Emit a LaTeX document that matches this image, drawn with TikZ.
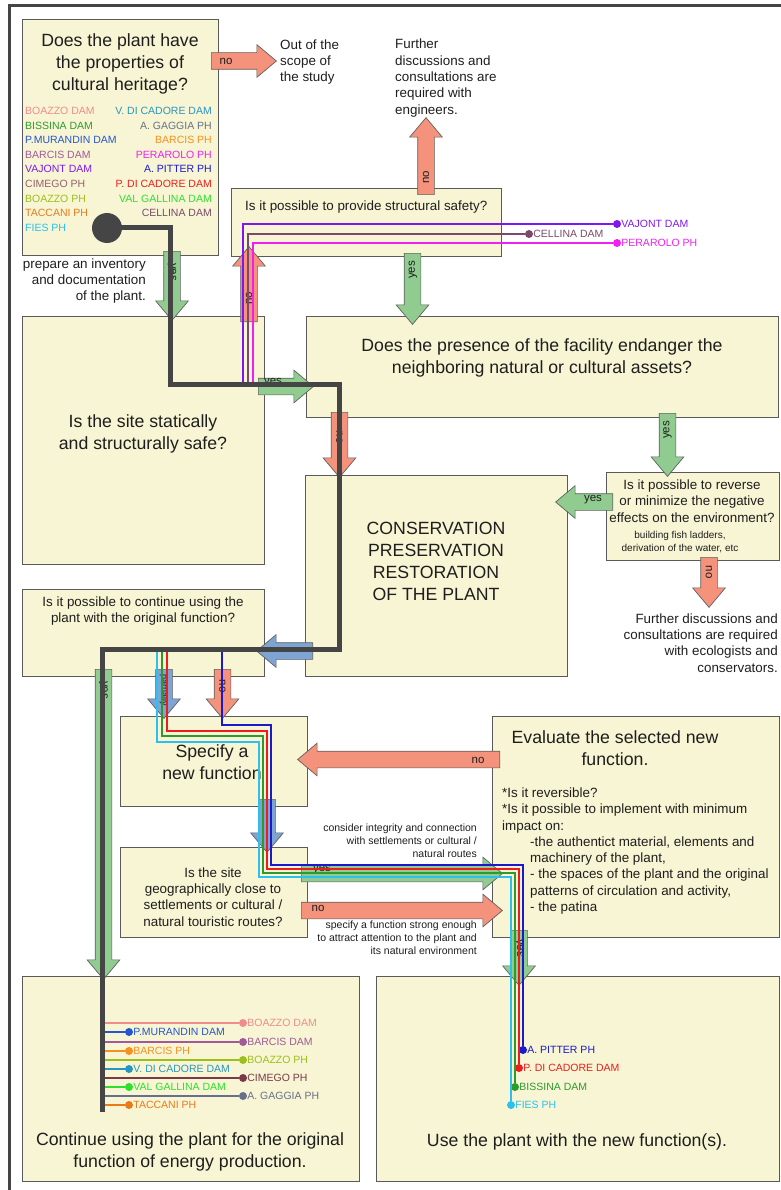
\documentclass[tikz,border=0pt]{standalone}
\usepackage{fontspec}
\setmainfont{Liberation Sans}
\usetikzlibrary{shapes.arrows}
\definecolor{boxfill}{HTML}{F7F5D3}
\definecolor{boxline}{HTML}{5A5A5A}
\definecolor{arrline}{HTML}{606060}
\definecolor{rd}{HTML}{F4927C}
\definecolor{gr}{HTML}{90CC90}
\definecolor{bl}{HTML}{7EA4D4}
\definecolor{trunkc}{HTML}{454545}
\definecolor{ink}{HTML}{1E1E1E}
\definecolor{boazzodam}{HTML}{F08C8C}
\definecolor{bissina}{HTML}{2E9A2E}
\definecolor{murandin}{HTML}{2456D0}
\definecolor{barcisdam}{HTML}{A05A9A}
\definecolor{vajont}{HTML}{7F18F0}
\definecolor{cimego}{HTML}{7A3A48}
\definecolor{boazzoph}{HTML}{9CBF1E}
\definecolor{taccani}{HTML}{E87A1A}
\definecolor{fies}{HTML}{2CC0F0}
\definecolor{vdicadore}{HTML}{2A95C0}
\definecolor{gaggia}{HTML}{66708A}
\definecolor{barcisph}{HTML}{F7901E}
\definecolor{perarolo}{HTML}{F020F0}
\definecolor{pitter}{HTML}{1A1ACC}
\definecolor{pdicadore}{HTML}{EE1C1C}
\definecolor{valgallina}{HTML}{2EE02E}
\definecolor{cellina}{HTML}{7A4A6A}
\tikzset{dot/.style={circle, fill=#1, minimum size=8pt, label distance=1.5pt},
  wire/.style={draw=#1, line width=2.5pt}}
\begin{document}
\begin{tikzpicture}[x=1pt, y=-1pt]
\tikzstyle{every node}=[inner sep=0pt, text=ink];
\tikzstyle{box}=[rectangle, draw=boxline, fill=boxfill, line width=0.8pt];
\tikzstyle{big}=[font=\fontsize{17.7}{22}\selectfont, align=center];
\tikzstyle{mid}=[font=\fontsize{13.4}{16.3}\selectfont, align=center];
\tikzstyle{small}=[font=\fontsize{10.5}{13}\selectfont];
\tikzstyle{lbl}=[font=\fontsize{11.5}{12}\selectfont];
\tikzstyle{blk}=[single arrow, draw=arrline, line width=0.7pt, inner xsep=0pt, inner ysep=8pt, single arrow head extend=8pt, single arrow tip angle=80, minimum width=0pt, anchor=tail];
\tikzstyle{trunk}=[draw=trunkc, line width=5pt];
\useasboundingbox (0,0) rectangle (780,1190);
\draw[draw=trunkc, line width=3pt] (9,1200) -- (9,6) -- (790,6);
% boxes
\node[box, minimum width=196pt, minimum height=236pt] (b0) at (120,137) {};
\node[box, minimum width=270pt, minimum height=68pt] (b1) at (366,222) {};
\node[box, minimum width=242pt, minimum height=248pt] (b2) at (143,440) {};
\node[box, minimum width=472pt, minimum height=101pt] (b3) at (542,366.5) {};
\node[box, minimum width=262pt, minimum height=201pt] (b4) at (436,575.5) {};
\node[box, minimum width=173pt, minimum height=88pt] (b5) at (692.5,516) {};
\node[box, minimum width=242pt, minimum height=87pt] (b6) at (143,632.5) {};
\node[box, minimum width=187pt, minimum height=90pt] (b7) at (213.5,761) {};
\node[box, minimum width=187pt, minimum height=90pt] (b8) at (213.5,892) {};
\node[box, minimum width=287pt, minimum height=221pt] (b9) at (635.5,826.5) {};
\node[box, minimum width=337pt, minimum height=205pt] (b10) at (190.5,1078.5) {};
\node[box, minimum width=403pt, minimum height=205pt] (b11) at (577.5,1078.5) {};
% texts
\node[big] (t0) at (120,64) {Does the plant have\\the properties of\\cultural heritage?};
\node[mid, align=right, anchor=east] (t1) at (146,281) {prepare an inventory\\and documentation\\of the plant.};
\node[mid, align=left, anchor=west] (t2) at (280,62) {Out of the\\scope of\\the study};
\node[mid, align=left, anchor=west] (t3) at (395,78) {Further\\discussions and\\consultations are\\required with\\engineers.};
\node[mid, anchor=west] (t4) at (245,207) {Is it possible to provide structural safety?};
\node[big] (t5) at (143,434) {Is the site statically\\and structurally safe?};
\node[big] (t6) at (542,358) {Does the presence of the facility endanger the\\neighboring natural or cultural assets?};
\node[big] (t7) at (436,561) {CONSERVATION\\PRESERVATION\\RESTORATION\\OF THE PLANT};
\node[mid] (t8) at (692,501) {Is it possible to reverse\\or minimize the negative\\effects on the environment?};
\node[font=\fontsize{10}{13}\selectfont, align=center] (t9) at (680,542.5) {building fish ladders,\\derivation of the water, etc};
\node[mid, align=right, anchor=east] (t10) at (778,643) {Further discussions and\\consultations are required\\with ecologists and\\conservators.};
\node[mid] (t11) at (143,611) {Is it possible to continue using the\\plant with the original function?};
\node[big] (t12) at (212,762.5) {Specify a\\new function};
\node[mid] (t13) at (213,897) {Is the site\\geographically close to\\settlements or cultural /\\natural touristic routes?};
\node[big] (t14) at (615,748) {Evaluate the selected new\\function.};
\node[mid, align=left, anchor=west] (t15) at (502,851) {*Is it reversible?\\*Is it possible to implement with minimum\\impact on:\\\hspace*{28pt}-the authentict material, elements and\\\hspace*{28pt}machinery of the plant,\\\hspace*{28pt}- the spaces of the plant and the original\\\hspace*{28pt}patterns of circulation and activity,\\\hspace*{28pt}- the patina};
\node[small, align=right, anchor=east] (t16) at (477,841) {consider integrity and connection\\with settlements or cultural /\\natural routes};
\node[small, align=right, anchor=east] (t17) at (477,937.5) {specify a function strong enough\\to attract attention to the plant and\\its natural environment};
\node[big] (t18) at (190,1152) {Continue using the plant for the original\\function of energy production.};
\node[big] (t19) at (577,1142) {Use the plant with the new function(s).};
% plant list
\node[small, anchor=west, text=boazzodam] (l0) at (25,111) {BOAZZO DAM};
\node[small, anchor=west, text=bissina] (l1) at (25,126) {BISSINA DAM};
\node[small, anchor=west, text=murandin] (l2) at (25,140) {P.MURANDIN DAM};
\node[small, anchor=west, text=barcisdam] (l3) at (25,155) {BARCIS DAM};
\node[small, anchor=west, text=vajont] (l4) at (25,169) {VAJONT DAM};
\node[small, anchor=west, text=cimego!80!white] (l5) at (25,184) {CIMEGO PH};
\node[small, anchor=west, text=boazzoph] (l6) at (25,199) {BOAZZO PH};
\node[small, anchor=west, text=taccani] (l7) at (25,213) {TACCANI PH};
\node[small, anchor=west, text=fies] (l8) at (25,228) {FIES PH};
\node[small, anchor=east, text=vdicadore] (l9) at (212,111) {V. DI CADORE DAM};
\node[small, anchor=east, text=gaggia] (l10) at (212,126) {A. GAGGIA PH};
\node[small, anchor=east, text=barcisph] (l11) at (212,140) {BARCIS PH};
\node[small, anchor=east, text=perarolo] (l12) at (212,155) {PERAROLO PH};
\node[small, anchor=east, text=pitter] (l13) at (212,169) {A. PITTER PH};
\node[small, anchor=east, text=pdicadore] (l14) at (212,184) {P. DI CADORE DAM};
\node[small, anchor=east, text=valgallina] (l15) at (212,199) {VAL GALLINA DAM};
\node[small, anchor=east, text=cellina] (l16) at (212,213) {CELLINA DAM};
% block arrows
\node[blk, fill=rd, minimum height=65pt] (a0) at (211,61) {};
\node[blk, fill=rd, minimum height=77pt, rotate=90] (a1) at (426,195) {};
\node[blk, fill=gr, minimum height=69pt, rotate=-90] (a2) at (172,251) {};
\node[blk, fill=rd, minimum height=75pt, rotate=90] (a3) at (249,322) {};
\node[blk, fill=gr, minimum height=55pt] (a4) at (258,386.5) {};
\node[blk, fill=rd, minimum height=65pt, rotate=-90] (a5) at (339.5,412) {};
\node[blk, fill=gr, minimum height=71pt, rotate=-90] (a6) at (412.5,253) {};
\node[blk, fill=gr, minimum height=63pt, rotate=-90] (a7) at (667.5,413) {};
\node[blk, fill=gr, minimum height=57pt, rotate=180] (a8) at (613,502) {};
\node[blk, fill=rd, minimum height=50pt, rotate=-90] (a9) at (709,557) {};
\node[blk, fill=bl, minimum height=56pt, rotate=180] (a10) at (313,651) {};
\node[blk, fill=gr, minimum height=310pt, rotate=-90] (a11) at (103.5,669) {};
\node[blk, fill=bl, minimum height=49pt, rotate=-90] (a12) at (164,669) {};
\node[blk, fill=rd, minimum height=49pt, rotate=-90] (a13) at (222.5,669) {};
\node[blk, fill=rd, minimum height=202pt, rotate=180] (a14) at (500,759.5) {};
\node[blk, fill=bl, minimum height=53pt, rotate=-90] (a15) at (267,799) {};
\node[blk, fill=gr, minimum height=201pt] (a16) at (301,873.5) {};
\node[blk, fill=rd, minimum height=201pt] (a17) at (301,910.5) {};
\node[blk, fill=gr, minimum height=55pt, rotate=-90] (a18) at (519,930) {};
\node[lbl] (n0) at (226,61) {no};
\node[lbl, rotate=90] (n1) at (426,177) {no};
\node[lbl, rotate=-90] (n2) at (172,272) {yes};
\node[lbl, rotate=90] (n3) at (249,298) {no};
\node[lbl] (n4) at (273,383) {yes};
\node[lbl, rotate=-90] (n5) at (339.5,437) {no};
\node[lbl, rotate=90] (n6) at (413,270) {yes};
\node[lbl, rotate=90] (n7) at (667.5,430) {yes};
\node[lbl] (n8) at (593,500) {yes};
\node[lbl, rotate=-90] (n9) at (709,572) {no};
\node[lbl, rotate=-90] (n11) at (103.5,690) {yes};
\node[lbl, rotate=-90, font=\fontsize{9}{10}\selectfont] (n12) at (164,690) {partially};
\node[lbl, rotate=-90] (n13) at (222.5,686) {no};
\node[lbl] (n14) at (478,760) {no};
\node[lbl] (n16) at (322,870) {yes};
\node[lbl] (n17) at (318,908) {no};
\node[lbl, rotate=-90] (n18) at (519,948) {yes};
% plant lines
\node[dot=vajont, label={[small, text=vajont]right:VAJONT DAM}] (d1) at (617,224) {};
\node[dot=cellina, label={[small, text=cellina]right:CELLINA DAM}] (d2) at (529,234) {};
\node[dot=perarolo, label={[small, text=perarolo]right:PERAROLO PH}] (d3) at (617,243) {};
\draw[wire=vajont] (d1) -- (243,224) -- (243,384);
\draw[wire=cellina] (d2) -- (248,234) -- (248,384);
\draw[wire=perarolo] (d3) -- (253,243) -- (253,384);
\node[dot=pitter, label={[small, text=pitter]right:A. PITTER PH}] (d4) at (523,1050) {};
\node[dot=pdicadore, label={[small, text=pdicadore]right:P. DI CADORE DAM}] (d5) at (519,1068) {};
\node[dot=bissina, label={[small, text=bissina]right:BISSINA DAM}] (d6) at (515,1087) {};
\node[dot=fies, label={[small, text=fies]right:FIES PH}] (d7) at (511,1105) {};
\draw[wire=pitter] (222,649) -- (222,725) -- (271,725) -- (271,865) -- (523,865) -- (d4);
\draw[wire=pdicadore] (167,649) -- (167,731) -- (267,731) -- (267,869) -- (519,869) -- (d5);
\draw[wire=bissina] (162,649) -- (162,736) -- (263,736) -- (263,873) -- (515,873) -- (d6);
\draw[wire=fies] (157,649) -- (157,742) -- (259,742) -- (259,877) -- (511,877) -- (d7);
\coordinate (e0) at (102,1112);
\node[dot=boazzodam, label={[small, text=boazzodam]right:BOAZZO DAM}] (d8) at (243,1023) {};
\node[dot=murandin, label={[small, text=murandin]right:P.MURANDIN DAM}] (d9) at (129,1032) {};
\node[dot=barcisdam, label={[small, text=barcisdam]right:BARCIS DAM}] (d10) at (243,1042) {};
\node[dot=barcisph, label={[small, text=barcisph]right:BARCIS PH}] (d11) at (129,1051) {};
\node[dot=boazzoph, label={[small, text=boazzoph]right:BOAZZO PH}] (d12) at (243,1060) {};
\node[dot=vdicadore, label={[small, text=vdicadore]right:V. DI CADORE DAM}] (d13) at (129,1069) {};
\node[dot=cimego, label={[small, text=cimego]right:CIMEGO PH}] (d14) at (243,1078) {};
\node[dot=valgallina, label={[small, text=valgallina]right:VAL GALLINA DAM}] (d15) at (129,1087) {};
\node[dot=gaggia, label={[small, text=gaggia]right:A. GAGGIA PH}] (d16) at (243,1096) {};
\node[dot=taccani, label={[small, text=taccani]right:TACCANI PH}] (d17) at (129,1105) {};
\draw[wire=boazzodam] (d8 -| e0) -- (d8);
\draw[wire=murandin] (d9 -| e0) -- (d9);
\draw[wire=barcisdam] (d10 -| e0) -- (d10);
\draw[wire=barcisph] (d11 -| e0) -- (d11);
\draw[wire=boazzoph] (d12 -| e0) -- (d12);
\draw[wire=vdicadore] (d13 -| e0) -- (d13);
\draw[wire=cimego] (d14 -| e0) -- (d14);
\draw[wire=valgallina] (d15 -| e0) -- (d15);
\draw[wire=gaggia] (d16 -| e0) -- (d16);
\draw[wire=taccani] (d17 -| e0) -- (d17);
% main line
\node[circle, fill=trunkc, minimum size=30pt] (s0) at (107,228) {};
\draw[trunk] (s0.center) -- (170,228) -- (170,384) -- (339,384) -- (339,649) -- (102,649) -- (e0);
\end{tikzpicture}
\end{document}
